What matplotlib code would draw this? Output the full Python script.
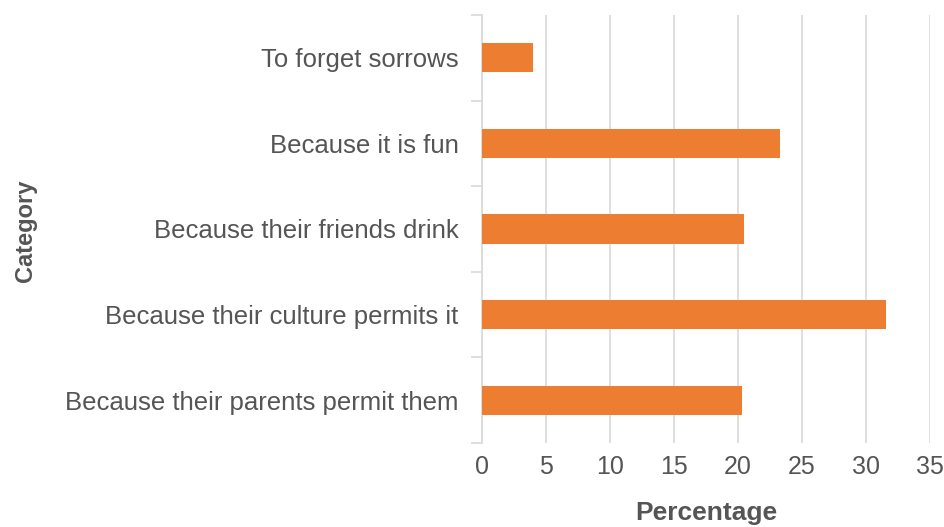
import matplotlib
matplotlib.use("Agg")
import matplotlib.pyplot as plt
import numpy as np

categories = ["Because their parents permit them", "Because their culture permits it",
              "Because their friends drink", "Because it is fun", "To forget sorrows"]
values = [20.3, 31.6, 20.5, 23.3, 4.0]
xticks = [0, 5, 10, 15, 20, 25, 30, 35]

plt.rcParams['font.family'] = ['Liberation Sans', 'DejaVu Sans']
fig = plt.figure(figsize=(9.45, 5.27), dpi=100)
ax = fig.add_axes([482/945, 1-443/527, (930-482)/945, (443-15)/527])

y = np.arange(len(categories))
ax.barh(y, values, height=0.34, color='#ED7D31', zorder=3)
ax.set_ylim(-0.5, len(categories)-0.5)
ax.set_xlim(0, 35)
ax.set_xticks(xticks)
ax.set_xticklabels([str(t) for t in xticks])
ax.grid(axis='x', color='#d9d9d9', linewidth=1.2, zorder=0)
ax.tick_params(axis='x', length=0, pad=9, labelsize=18, labelcolor='#555555')
ax.set_yticks(y)
ax.set_yticklabels(categories)
ax.tick_params(axis='y', which='major', length=0, pad=17, labelsize=18.5, labelcolor='#555555')
ax.set_yticks(np.arange(-0.5, len(categories), 1.0), minor=True)
ax.tick_params(axis='y', which='minor', length=8, color='#d9d9d9', width=1.2)
for s in ['top', 'right', 'bottom']:
    ax.spines[s].set_visible(False)
ax.spines['left'].set_color('#d9d9d9')
ax.spines['left'].set_linewidth(1.2)

fig.text(706/945, 1-513/527, 'Percentage', fontsize=19, fontweight='bold',
         color='#555555', ha='center', va='center')
fig.text(26/945, 1-231/527, 'Category', rotation=90, fontsize=17, fontweight='bold',
         color='#555555', ha='center', va='center')

fig.savefig('out.png', dpi=100)
